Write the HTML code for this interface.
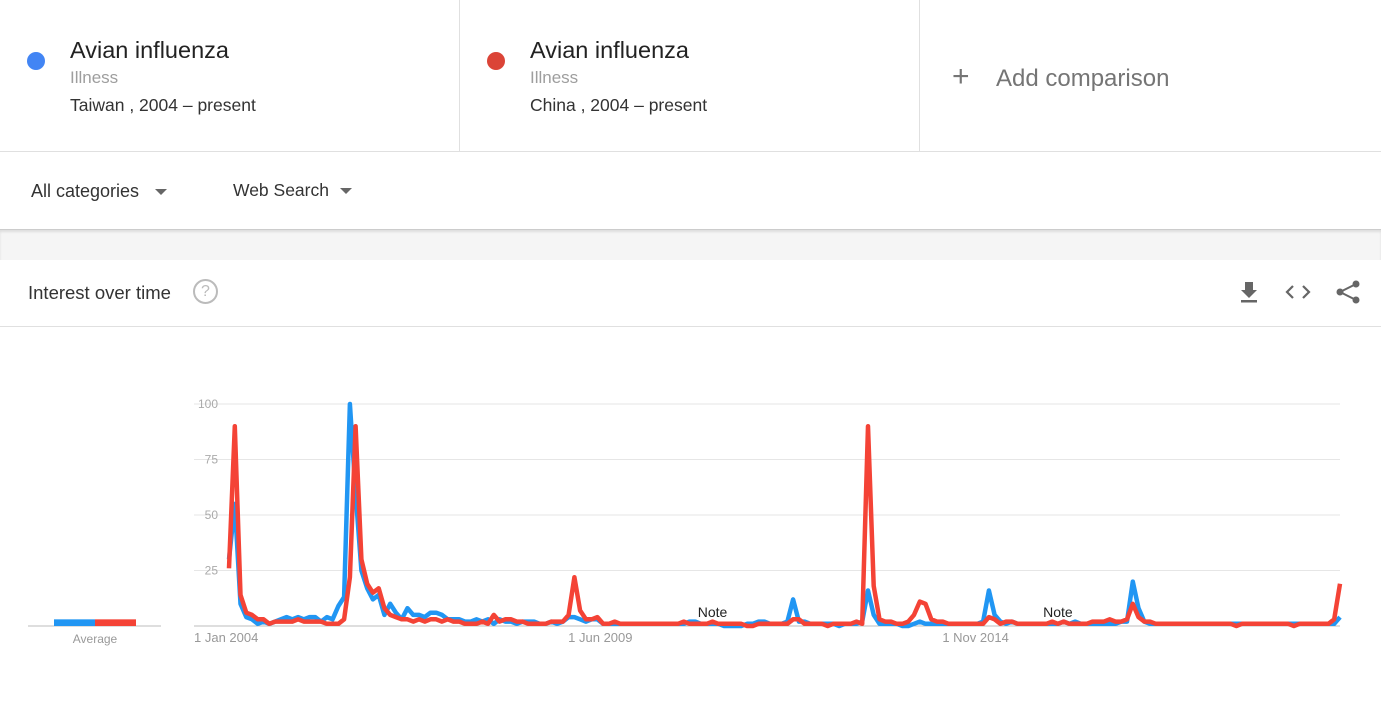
<!DOCTYPE html>
<html><head><meta charset="utf-8"><style>
body{margin:0;width:1381px;height:727px;background:#fff;font-family:"Liberation Sans",sans-serif;position:relative;overflow:hidden}
.abs{position:absolute}
.card{position:absolute;top:0;height:151px;border-right:1px solid #e0e0e0}
.t1{position:absolute;left:70px;top:37px;font-size:23.5px;color:#222}
.t2{position:absolute;left:70px;top:68px;font-size:17px;color:#9e9e9e}
.t3{position:absolute;left:70px;top:95px;font-size:17.5px;color:#333}
.dot{position:absolute;left:27px;top:52px;width:18px;height:18px;border-radius:50%}
.tri{display:inline-block;width:0;height:0;border-left:6px solid transparent;border-right:6px solid transparent;border-top:6px solid #666;vertical-align:middle}
</style></head><body>
<div class="card" style="left:0;width:459px">
<div class="dot" style="background:#4285f4"></div>
<div class="t1">Avian influenza</div>
<div class="t2">Illness</div>
<div class="t3">Taiwan , 2004 – present</div></div>
<div class="card" style="left:460px;width:459px">
<div class="dot" style="background:#db4437"></div>
<div class="t1">Avian influenza</div>
<div class="t2">Illness</div>
<div class="t3">China , 2004 – present</div></div>
<div class="card" style="left:920px;width:461px;border:none">
<div class="abs" style="left:32px;top:60px;font-size:30px;color:#757575;font-weight:300">+</div>
<div class="abs" style="left:76px;top:65px;font-size:24px;color:#757575">Add comparison</div></div>
<div class="abs" style="left:0;top:151px;width:1381px;height:1px;background:#e0e0e0"></div>
<div class="abs" style="left:31px;top:181px;font-size:18px;color:#333">All categories<span class="tri" style="margin-left:16px"></span></div>
<div class="abs" style="left:233px;top:180px;font-size:17.5px;color:#333">Web Search<span class="tri" style="margin-left:11px"></span></div>
<div class="abs" style="left:0;top:229px;width:1381px;height:30px;background:#f5f5f5;border-top:1px solid #ccc;box-shadow:inset 0 2px 2px #ddd"></div>
<div class="abs" style="left:28px;top:282px;font-size:18.5px;color:#333">Interest over time</div>
<div class="abs" style="left:193px;top:279px;width:21px;height:21px;border:2px solid #bbb;border-radius:50%;color:#bbb;font-size:16px;text-align:center;line-height:21px">?</div>
<svg class="abs" style="left:1236px;top:278px" width="125" height="30">
<g><path d="M9 4h8v8h4l-8 8-8-8h4z" fill="#666"/><rect x="5" y="22" width="16" height="2.5" fill="#666"/></g>
<g fill="none" stroke="#666" stroke-width="2.2"><path d="M57 8l-6 6 6 6M67 8l6 6-6 6"/></g>
<g fill="#666"><circle cx="120" cy="6" r="3.5"/><circle cx="104" cy="14" r="3.5"/><circle cx="120" cy="22" r="3.5"/><path d="M104 14L120 6M104 14L120 22" stroke="#666" stroke-width="2"/></g></svg>
<div class="abs" style="left:0;top:326px;width:1381px;height:1px;background:#e0e0e0"></div>
<svg class="abs" id="chart" style="left:0;top:0" width="1381" height="727"></svg>
<script>
const ticks=[0,25,50,75,100];
const xLabels=["1 Jan 2004","1 Jun 2009","1 Nov 2014"];
const xLabelIdx=[0,65,130];
const taiwan=[30,55,10,4,3,1,2,1,2,3, 4,3,4,3,4,4,2,4,3,9, 13,100,60,25,17,12,14,5,10,6, 3,8,5,5,4,6,6,5,3,3, 3,2,2,3,2,3,1,3,2,2, 1,2,2,2,1,1,2,1,2,4, 4,3,2,3,3,1,1,1,1,1, 1,1,1,1,1,1,1,1,1,1, 2,2,1,1,1,1,0,0,0,0, 1,1,2,2,1,1,1,2,12,2, 2,1,1,1,1,1,0,1,1,1, 2,16,5,1,1,1,1,0,0,1, 2,1,1,1,1,1,1,1,1,1, 1,2,16,5,2,1,2,1,1,1, 1,1,1,1,1,2,1,2,1,1, 1,1,1,1,1,2,2,20,8,2, 1,1,1,1,1,1,1,1,1,1, 1,1,1,1,1,1,1,1,1,1, 1,1,1,1,1,1,1,1,1,1, 1,1,1,4];
const china=[26,90,14,6,5,3,3,1,2,2, 2,2,3,2,2,2,2,1,1,1, 3,22,90,30,19,15,17,8,5,4, 3,3,2,3,2,3,3,2,3,2, 2,1,1,1,2,1,5,2,3,3, 2,2,1,1,1,1,2,2,2,5, 22,7,3,3,4,1,1,2,1,1, 1,1,1,1,1,1,1,1,1,2, 1,1,1,1,2,1,1,1,1,1, 0,0,1,1,1,1,1,1,3,3, 1,1,1,1,0,1,1,1,1,2, 1,90,18,3,2,2,1,1,2,5, 11,10,3,2,2,1,1,1,1,1, 1,1,4,3,1,2,2,1,1,1, 1,1,1,2,1,2,1,1,1,1, 2,2,2,3,2,2,3,10,4,2, 2,1,1,1,1,1,1,1,1,1, 1,1,1,1,1,0,1,1,1,1, 1,1,1,1,1,0,1,1,1,1, 1,1,3,19];
const averages=[3,3];
const notes=["Note","Note"];const noteIdx=[84,144];
const svg=document.getElementById('chart');const NS='http://www.w3.org/2000/svg';
const X0=229,X1=1340,Y0=626,Y1=404;
const n=Math.max(taiwan.length,china.length);
const xs=i=>X0+(X1-X0)*i/(n-1);
const ys=v=>Y0-(Y0-Y1)*v/100;
function mk(t,a){const e=document.createElementNS(NS,t);for(const k in a)e.setAttribute(k,a[k]);svg.appendChild(e);return e;}
ticks.forEach(t=>{
const l=mk('line',{x1:X0-35,x2:X1,y1:ys(t),y2:ys(t),stroke:t===0?'#bdbdbd':'#e6e6e6','stroke-width':1});


if(t>0){const tx=mk('text',{x:218,y:ys(t)+4,'text-anchor':'end','font-size':12,fill:'#aaa','font-family':'Liberation Sans'});tx.textContent=t;

}
});
xLabels.forEach((s,k)=>{const tx=mk('text',{x:xs(xLabelIdx[k])-35,y:642,'font-size':13,fill:'#999','font-family':'Liberation Sans'});tx.textContent=s;

});
notes.forEach((s,k)=>{const tx=mk('text',{x:xs(noteIdx[k]),y:617,'text-anchor':'middle','font-size':14,fill:'#222','font-family':'Liberation Sans'});tx.textContent=s;

});
[[taiwan,'#2196f3','taiwan-line'],[china,'#f44336','china-line']].forEach(([d,c,nm])=>{
const p=mk('polyline',{points:d.map((v,i)=>xs(i).toFixed(1)+','+ys(v).toFixed(1)).join(' '),fill:'none',stroke:c,'stroke-width':4.5,'stroke-linejoin':'round'});

});
const bl=mk('line',{x1:28,x2:161,y1:626,y2:626,stroke:'#bdbdbd'});


averages.forEach((v,k)=>{const h=(Y0-Y1)*v/100;const r=mk('rect',{x:54+41*k,y:626-h,width:41,height:h,fill:k?'#f44336':'#2196f3'});

});
const at=mk('text',{x:95,y:643,'text-anchor':'middle','font-size':12,fill:'#999','font-family':'Liberation Sans'});at.textContent='Average';


</script>
</body></html>
